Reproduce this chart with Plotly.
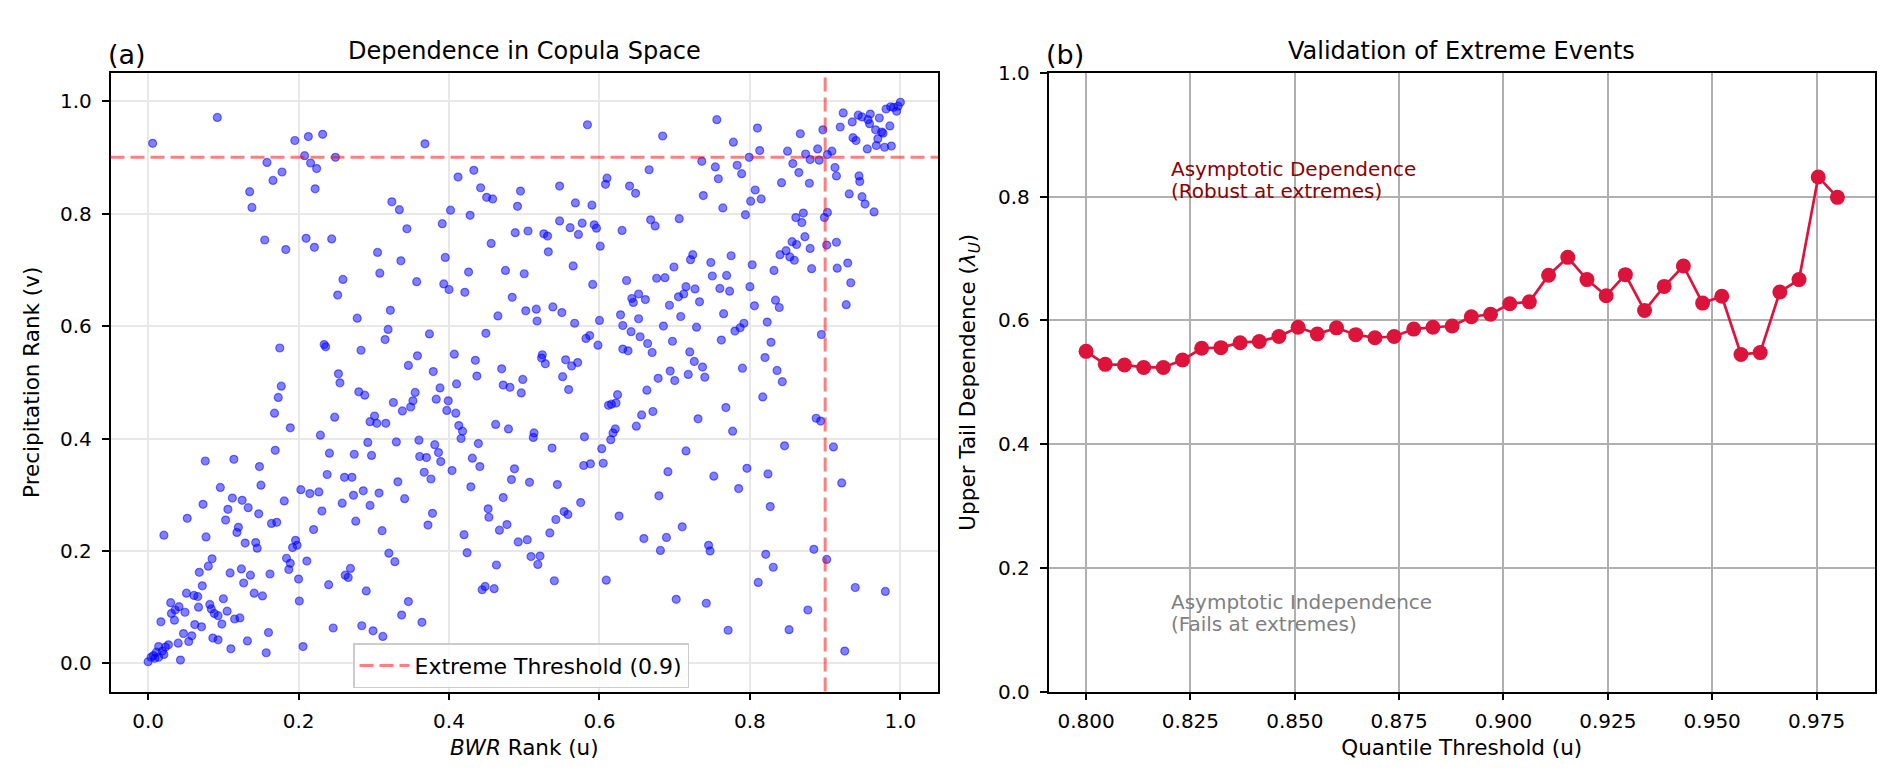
import plotly.graph_objects as go

BWR_UL = [0.006, 0.092, 0.158, 0.135, 0.138, 0.166, 0.178, 0.195, 0.213, 0.232,
          0.208, 0.216, 0.224, 0.222, 0.249, 0.368, 0.155, 0.183, 0.210, 0.221,
          0.244, 0.259, 0.252, 0.305, 0.308, 0.324, 0.334, 0.344, 0.336, 0.357, 0.322]
PRECIP_UL = [0.925, 0.971, 0.891, 0.839, 0.811, 0.859, 0.874, 0.930, 0.937, 0.941,
             0.903, 0.890, 0.880, 0.844, 0.900, 0.924, 0.753, 0.736, 0.756, 0.740,
             0.755, 0.683, 0.655, 0.731, 0.694, 0.821, 0.807, 0.773, 0.716, 0.679, 0.628]

BWR_UM = [0.584, 0.684, 0.756, 0.810, 0.778, 0.813, 0.799, 0.736, 0.754, 0.758,
          0.783, 0.789, 0.807, 0.801, 0.815, 0.842, 0.794, 0.764, 0.738, 0.666,
          0.610, 0.608, 0.640, 0.648, 0.706, 0.668, 0.674, 0.630, 0.590, 0.568,
          0.547, 0.577, 0.561, 0.572, 0.593, 0.596, 0.601, 0.547, 0.412, 0.433,
          0.442, 0.450, 0.458, 0.495, 0.491, 0.402, 0.428, 0.391, 0.395, 0.393,
          0.400, 0.421, 0.426, 0.456, 0.488, 0.505, 0.526, 0.531, 0.532, 0.565,
          0.475, 0.500, 0.484, 0.502, 0.516, 0.538, 0.550, 0.591, 0.636, 0.643,
          0.645, 0.652, 0.661, 0.676, 0.687, 0.699, 0.693, 0.705, 0.712, 0.715,
          0.727, 0.721, 0.724, 0.733, 0.748, 0.750, 0.760, 0.769, 0.773, 0.775,
          0.803, 0.800, 0.806, 0.832, 0.834, 0.839, 0.840, 0.765]
PRECIP_UM = [0.958, 0.938, 0.967, 0.952, 0.927, 0.912, 0.900, 0.893, 0.883, 0.862,
             0.886, 0.871, 0.842, 0.822, 0.826, 0.855, 0.798, 0.810, 0.832, 0.878,
             0.863, 0.852, 0.849, 0.836, 0.791, 0.789, 0.778, 0.770, 0.815, 0.819,
             0.849, 0.783, 0.775, 0.763, 0.780, 0.774, 0.742, 0.787, 0.865, 0.877,
             0.846, 0.829, 0.826, 0.840, 0.813, 0.806, 0.797, 0.782, 0.722, 0.675,
             0.665, 0.660, 0.696, 0.747, 0.766, 0.769, 0.764, 0.760, 0.732, 0.707,
             0.699, 0.693, 0.651, 0.627, 0.630, 0.634, 0.624, 0.674, 0.681, 0.649,
             0.642, 0.657, 0.647, 0.685, 0.686, 0.705, 0.637, 0.652, 0.657, 0.670,
             0.666, 0.718, 0.727, 0.643, 0.713, 0.689, 0.667, 0.690, 0.662, 0.725,
             0.709, 0.670, 0.636, 0.699, 0.646, 0.633, 0.727, 0.622]

BWR_ML = [0.278, 0.319, 0.315, 0.374, 0.175, 0.234, 0.236, 0.283, 0.253, 0.255,
          0.346, 0.358, 0.379, 0.177, 0.173, 0.168, 0.189, 0.248, 0.280, 0.288,
          0.326, 0.301, 0.295, 0.304, 0.316, 0.338, 0.349, 0.352, 0.355, 0.229,
          0.169, 0.241, 0.274, 0.292, 0.297, 0.330, 0.360, 0.361, 0.370, 0.367,
          0.376, 0.332, 0.341, 0.378, 0.372, 0.076, 0.114, 0.148, 0.150, 0.096,
          0.112, 0.125, 0.133, 0.073, 0.106, 0.147, 0.052, 0.103, 0.120, 0.118,
          0.077, 0.021, 0.129, 0.143, 0.145, 0.164, 0.171, 0.181, 0.203, 0.215,
          0.227, 0.231, 0.238, 0.261, 0.271, 0.258, 0.273, 0.286, 0.295, 0.307,
          0.276, 0.220, 0.311, 0.196, 0.198, 0.192, 0.320, 0.328, 0.085, 0.080,
          0.184, 0.189, 0.211, 0.187, 0.124, 0.269]
PRECIP_ML = [0.614, 0.594, 0.576, 0.586, 0.561, 0.567, 0.563, 0.557, 0.515, 0.499,
             0.530, 0.547, 0.519, 0.493, 0.473, 0.445, 0.419, 0.438, 0.483, 0.477,
             0.464, 0.440, 0.430, 0.427, 0.427, 0.449, 0.456, 0.467, 0.482, 0.406,
             0.379, 0.374, 0.372, 0.393, 0.370, 0.394, 0.397, 0.368, 0.366, 0.340,
             0.328, 0.323, 0.293, 0.267, 0.246, 0.360, 0.363, 0.350, 0.317, 0.313,
             0.294, 0.290, 0.277, 0.283, 0.274, 0.266, 0.258, 0.255, 0.242, 0.233,
             0.225, 0.228, 0.214, 0.215, 0.205, 0.249, 0.251, 0.289, 0.309, 0.302,
             0.305, 0.271, 0.336, 0.331, 0.331, 0.285, 0.299, 0.307, 0.281, 0.303,
             0.253, 0.238, 0.236, 0.219, 0.210, 0.206, 0.196, 0.181, 0.186, 0.173,
             0.187, 0.178, 0.182, 0.167, 0.168, 0.169]

BWR_MM = [0.465, 0.628, 0.652, 0.708, 0.517, 0.600, 0.567, 0.449, 0.582, 0.587,
          0.598, 0.631, 0.642, 0.654, 0.664, 0.670, 0.631, 0.638, 0.685, 0.697,
          0.729, 0.762, 0.780, 0.787, 0.792, 0.823, 0.828, 0.820, 0.836, 0.843,
          0.790, 0.720, 0.726, 0.737, 0.740, 0.718, 0.694, 0.700, 0.678, 0.663,
          0.656, 0.671, 0.649, 0.624, 0.612, 0.616, 0.622, 0.621, 0.618, 0.615,
          0.603, 0.605, 0.588, 0.579, 0.580, 0.768, 0.731, 0.777, 0.817, 0.846,
          0.715, 0.691, 0.752, 0.796, 0.824, 0.785, 0.679, 0.827, 0.626, 0.710,
          0.659, 0.689, 0.681, 0.745, 0.747, 0.821, 0.831, 0.407, 0.435, 0.437,
          0.470, 0.472, 0.481, 0.498, 0.496, 0.524, 0.523, 0.528, 0.555, 0.563,
          0.571, 0.551, 0.559, 0.388, 0.383, 0.399, 0.397, 0.409, 0.410, 0.413,
          0.418, 0.416, 0.381, 0.386, 0.389, 0.404, 0.431, 0.441, 0.439, 0.462,
          0.479, 0.513, 0.512, 0.537, 0.487, 0.483, 0.507, 0.544, 0.429, 0.472,
          0.452, 0.453, 0.477, 0.467, 0.575, 0.553, 0.558, 0.542, 0.534, 0.492,
          0.504, 0.420, 0.424, 0.509, 0.521, 0.518, 0.463]
PRECIP_MM = [0.618, 0.620, 0.613, 0.617, 0.609, 0.610, 0.605, 0.587, 0.578, 0.583,
             0.566, 0.601, 0.590, 0.581, 0.569, 0.553, 0.559, 0.556, 0.600, 0.573,
             0.598, 0.575, 0.591, 0.597, 0.605, 0.607, 0.571, 0.544, 0.521, 0.501,
             0.525, 0.554, 0.537, 0.527, 0.509, 0.514, 0.520, 0.503, 0.507, 0.486,
             0.442, 0.448, 0.422, 0.478, 0.459, 0.461, 0.463, 0.417, 0.410, 0.398,
             0.382, 0.356, 0.355, 0.352, 0.403, 0.455, 0.435, 0.413, 0.474, 0.387,
             0.378, 0.341, 0.333, 0.347, 0.337, 0.311, 0.298, 0.279, 0.262, 0.243,
             0.222, 0.224, 0.201, 0.210, 0.200, 0.194, 0.171, 0.550, 0.539, 0.511,
             0.524, 0.495, 0.491, 0.505, 0.481, 0.549, 0.543, 0.533, 0.540, 0.529,
             0.535, 0.510, 0.487, 0.490, 0.470, 0.467, 0.450, 0.445, 0.497, 0.423,
             0.413, 0.400, 0.389, 0.375, 0.359, 0.343, 0.365, 0.350, 0.391, 0.425,
             0.417, 0.410, 0.402, 0.383, 0.346, 0.327, 0.322, 0.318, 0.314, 0.295,
             0.275, 0.260, 0.247, 0.237, 0.286, 0.270, 0.265, 0.256, 0.232, 0.216,
             0.220, 0.229, 0.197, 0.190, 0.191, 0.176, 0.175]

BWR_UR = [1.000, 0.997, 0.991, 0.987, 0.981, 0.995, 0.972, 0.960, 0.949, 0.944,
          0.957, 0.959, 0.967, 0.975, 0.977, 0.986, 0.970, 0.968, 0.979, 0.988,
          0.956, 0.936, 0.924, 0.920, 0.897, 0.937, 0.941, 0.890, 0.867, 0.850,
          0.874, 0.880, 0.892, 0.903, 0.909, 0.857, 0.865, 0.913, 0.915, 0.945,
          0.946, 0.879, 0.932, 0.949, 0.953, 0.965, 0.871, 0.861, 0.869, 0.903,
          0.899, 0.873, 0.856, 0.862, 0.848, 0.853, 0.859, 0.880, 0.902, 0.915,
          0.882, 0.916, 0.930, 0.934, 0.928, 0.895]
PRECIP_UR = [0.998, 0.991, 0.989, 0.990, 0.986, 0.982, 0.970, 0.977, 0.972, 0.975,
             0.967, 0.960, 0.949, 0.945, 0.943, 0.956, 0.933, 0.921, 0.918, 0.920,
             0.915, 0.963, 0.979, 0.954, 0.949, 0.935, 0.930, 0.915, 0.942, 0.911,
             0.906, 0.896, 0.895, 0.905, 0.911, 0.889, 0.873, 0.882, 0.867, 0.867,
             0.857, 0.854, 0.835, 0.830, 0.817, 0.803, 0.801, 0.793, 0.784, 0.802,
             0.793, 0.759, 0.750, 0.745, 0.734, 0.723, 0.717, 0.738, 0.744, 0.749,
             0.702, 0.703, 0.712, 0.677, 0.638, 0.585]

BWR_LR = [0.888, 0.894, 0.911, 0.922, 0.885, 0.902, 0.940, 0.980, 0.877, 0.852, 0.926]
PRECIP_LR = [0.436, 0.431, 0.385, 0.321, 0.203, 0.185, 0.135, 0.128, 0.095, 0.060, 0.022]

BWR_LL = [0.068, 0.109, 0.136, 0.162, 0.200, 0.072, 0.127, 0.051, 0.061, 0.066,
          0.141, 0.152, 0.100, 0.030, 0.041, 0.036, 0.049, 0.067, 0.082, 0.084,
          0.088, 0.093, 0.105, 0.098, 0.115, 0.122, 0.031, 0.017, 0.035, 0.062,
          0.071, 0.047, 0.058, 0.054, 0.086, 0.093, 0.132, 0.160, 0.110, 0.157,
          0.206, 0.040, 0.027, 0.023, 0.014, 0.019, 0.011, 0.007, 0.004, 0.000,
          0.009, 0.014, 0.021, 0.043, 0.201, 0.240, 0.262, 0.266, 0.290, 0.246,
          0.284, 0.299, 0.312, 0.346, 0.337, 0.364]
PRECIP_LL = [0.162, 0.161, 0.157, 0.159, 0.150, 0.138, 0.143, 0.125, 0.121, 0.119,
             0.125, 0.120, 0.115, 0.108, 0.101, 0.095, 0.091, 0.100, 0.105, 0.097,
             0.089, 0.085, 0.093, 0.070, 0.079, 0.081, 0.089, 0.074, 0.077, 0.069,
             0.065, 0.053, 0.049, 0.039, 0.045, 0.042, 0.040, 0.055, 0.026, 0.019,
             0.030, 0.036, 0.033, 0.029, 0.030, 0.022, 0.020, 0.014, 0.011, 0.003,
             0.009, 0.011, 0.016, 0.006, 0.111, 0.140, 0.157, 0.153, 0.129, 0.063,
             0.067, 0.058, 0.048, 0.110, 0.086, 0.073]

BWR_LM = [0.444, 0.448, 0.460, 0.540, 0.609, 0.702, 0.742, 0.771, 0.811]
PRECIP_LM = [0.131, 0.137, 0.133, 0.147, 0.148, 0.114, 0.107, 0.059, 0.144]

THRESHOLD = 0.9

# ---- panel (b): empirical upper tail dependence by quantile ----
QUANTILES = [0.8000, 0.8046, 0.8092, 0.8138, 0.8185, 0.8231, 0.8277, 0.8323, 0.8369, 0.8415,
             0.8462, 0.8508, 0.8554, 0.8600, 0.8646, 0.8692, 0.8738, 0.8785, 0.8831, 0.8877,
             0.8923, 0.8969, 0.9015, 0.9062, 0.9108, 0.9154, 0.9200, 0.9246, 0.9292, 0.9338,
             0.9385, 0.9431, 0.9477, 0.9523, 0.9569, 0.9615, 0.9662, 0.9708, 0.9754, 0.9800]
LAMBDA_U = [0.550, 0.529, 0.528, 0.524, 0.524, 0.536, 0.555, 0.556, 0.564, 0.566,
            0.574, 0.589, 0.578, 0.588, 0.577, 0.572, 0.574, 0.586, 0.589, 0.591,
            0.606, 0.610, 0.627, 0.630, 0.673, 0.702, 0.666, 0.640, 0.674, 0.616,
            0.655, 0.688, 0.628, 0.639, 0.545, 0.548, 0.646, 0.666, 0.832, 0.799]

A_TICKS = [0.0, 0.2, 0.4, 0.6, 0.8, 1.0]

bwr = BWR_UL + BWR_UM + BWR_ML + BWR_MM + BWR_UR + BWR_LR + BWR_LL + BWR_LM
precip = PRECIP_UL + PRECIP_UM + PRECIP_ML + PRECIP_MM + PRECIP_UR + PRECIP_LR + PRECIP_LL + PRECIP_LM
assert len(bwr) == len(precip)

W, H = 1892, 782
FONT = "DejaVu Sans"
DOM_A = [102.5 / W, 930 / W]
DOM_B = [1040.5 / W, 1867 / W]
DOM_Y = [1 - 692.8 / H, 1 - 54.7 / H]
LABEL_FONT = dict(size=21.5, color="black", family=FONT)

axis_common = dict(
    showline=True, mirror=True, linecolor="black", linewidth=1.5,
    ticks="outside", ticklen=7, tickwidth=1.5, tickcolor="black",
    tickfont=dict(size=20, color="black", family=FONT),
    zeroline=False, showgrid=True, gridwidth=1.5,
)

fig = go.Figure()

fig.add_trace(go.Scatter(
    x=bwr, y=precip, mode="markers", showlegend=False,
    marker=dict(size=8, color="rgba(0,0,255,0.5)",
                line=dict(color="rgba(0,0,255,0.5)", width=1.2)),
    xaxis="x", yaxis="y",
))
thresh_line = dict(color="rgba(255,0,0,0.5)", width=3, dash="14px,6px")
# legend entry for the threshold lines (drawn as shapes below)
fig.add_trace(go.Scatter(
    x=[None], y=[None], mode="lines", line=thresh_line,
    name="Extreme Threshold (0.9)", xaxis="x", yaxis="y",
))
fig.add_shape(type="line", xref="x domain", yref="y", x0=0, x1=1,
              y0=THRESHOLD, y1=THRESHOLD, line=thresh_line)
fig.add_shape(type="line", xref="x", yref="y domain", x0=THRESHOLD, x1=THRESHOLD,
              y0=0, y1=1, line=thresh_line)

fig.add_trace(go.Scatter(
    x=QUANTILES, y=LAMBDA_U, mode="lines+markers", showlegend=False,
    line=dict(color="#DC143C", width=2.7),
    marker=dict(size=15, color="#DC143C"),
    xaxis="x2", yaxis="y2",
))

fig.update_layout(
    width=W, height=H,
    margin=dict(l=0, r=0, t=0, b=0),
    paper_bgcolor="white", plot_bgcolor="white",
    font=dict(family=FONT, color="black", size=20),
    xaxis=dict(axis_common, domain=DOM_A, anchor="y", range=[-0.05, 1.05],
               tickvals=A_TICKS, tickformat=".1f", gridcolor="#e8e8e8",
               ticklabelstandoff=4,
               title=dict(text="<i>BWR</i> Rank (u)", standoff=8, font=LABEL_FONT)),
    yaxis=dict(axis_common, domain=DOM_Y, anchor="x", range=[-0.05, 1.05],
               tickvals=A_TICKS, tickformat=".1f", gridcolor="#e8e8e8",
               ticklabelstandoff=6,
               title=dict(text="Precipitation Rank (v)", standoff=14, font=LABEL_FONT)),
    xaxis2=dict(axis_common, domain=DOM_B, anchor="y2", range=[0.791, 0.989],
                tick0=0.8, dtick=0.025, tickformat=".3f", gridcolor="#b0b0b0",
                ticklabelstandoff=4,
                title=dict(text="Quantile Threshold (u)", standoff=8, font=LABEL_FONT)),
    yaxis2=dict(axis_common, domain=DOM_Y, anchor="x2", range=[0, 1],
                tickvals=A_TICKS, tickformat=".1f", gridcolor="#b0b0b0",
                ticklabelstandoff=6,
                title=dict(text="Upper Tail Dependence (<i>λ<sub>U</sub></i>)", standoff=16,
                           font=LABEL_FONT)),
    legend=dict(x=345 / W, y=1 - 643 / H, xanchor="left", yanchor="top",
                bgcolor="rgba(255,255,255,0.8)", bordercolor="#cccccc", borderwidth=1.5,
                itemwidth=50,
                font=dict(size=22, color="black", family=FONT)),
    showlegend=True,
)

titles = [
    ("Dependence in Copula Space", DOM_A),
    ("Validation of Extreme Events", DOM_B),
]
for text, dom in titles:
    fig.add_annotation(text=text, xref="paper", yref="paper",
                       x=(dom[0] + dom[1]) / 2, y=DOM_Y[1], xanchor="center",
                       yanchor="bottom", yshift=6, showarrow=False,
                       font=dict(size=24, color="black"))
for text, dom in [("(a)", DOM_A), ("(b)", DOM_B)]:
    fig.add_annotation(text=text, xref="paper", yref="paper",
                       x=dom[0], y=DOM_Y[1], xanchor="left", xshift=-5,
                       yanchor="bottom", yshift=1, showarrow=False,
                       font=dict(size=27, color="black"))

# two-line notes in panel (b): baseline of the second line sits on the given y
notes = [
    ("Asymptotic Dependence", "(Robust at extremes)", 0.80, "#8B0000"),
    ("Asymptotic Independence", "(Fails at extremes)", 0.10, "gray"),
]
for line1, line2, yv, col in notes:
    for text, shift in [(line1, 15), (line2, -7)]:
        fig.add_annotation(text=text, xref="x2", yref="y2", x=0.82, y=yv,
                           xanchor="left", yanchor="bottom", yshift=shift,
                           showarrow=False, borderpad=0,
                           font=dict(size=20, color=col))

fig.write_html("out.html")
